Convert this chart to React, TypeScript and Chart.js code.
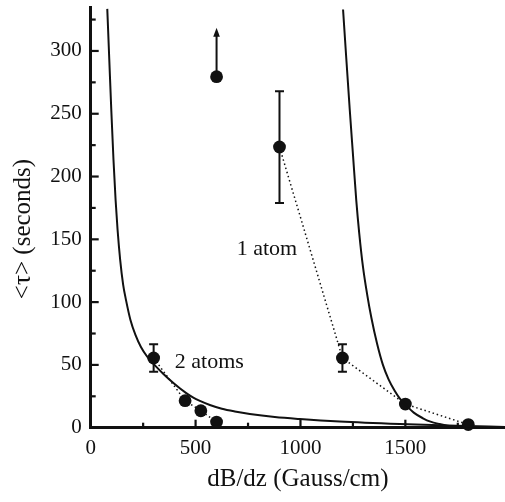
import { useEffect, useRef } from 'react';
import { Chart, registerables } from 'chart.js';

Chart.register(...registerables);

// ---- axis ticks ----
const X_TICKS = [0, 500, 1000, 1500];
const X_MINOR_TICKS = [250, 750, 1250, 1750];
const Y_TICKS = [0, 50, 100, 150, 200, 250, 300];
const Y_MINOR_TICKS = [25, 75, 125, 175, 225, 275, 325];
const X_MIN = 0;
const X_MAX = 1975;
const Y_MIN = 0;
const Y_MAX = 335;

// ---- measured points ----
const TWO_ATOM_X = [300, 450, 525, 600];
const TWO_ATOM_Y = [55.5, 21.5, 13.5, 4.5];
const TWO_ATOM_ERR_LOW = [44.5, null, null, null];
const TWO_ATOM_ERR_HIGH = [66.5, null, null, null];

const ONE_ATOM_X = [900, 1200, 1500, 1800];
const ONE_ATOM_Y = [223.5, 55.5, 18.8, 2.5];
const ONE_ATOM_ERR_LOW = [179, 44.5, null, null];
const ONE_ATOM_ERR_HIGH = [268, 66.5, null, null];

// lower-limit point (arrow up)
const LIMIT_X = [600];
const LIMIT_Y = [279.5];
const LIMIT_ARROW_TOP = [318.5];

// ---- theory curves ----
const FIT_TWO_X = [79, 88.6, 98.1, 108.6, 118.6, 128.1, 140.5, 154.8, 168.1, 189.5, 213.3, 239.5, 270.5, 306.2, 346.7, 394.3, 453.8, 487.1, 520.5, 568.1, 625.2, 687.1, 758.6, 877.6, 996.7, 1187, 1473, 1744, 1975];
const FIT_TWO_Y = [333.5, 293.1, 253.2, 213.4, 181.5, 157.6, 133.7, 113.8, 101.8, 85.8, 73.9, 64.3, 56.3, 49.6, 42.8, 35.6, 27.7, 24.1, 21.3, 18.1, 15.1, 12.9, 10.9, 8.5, 6.9, 4.9, 2.9, 1.5, 0.6];

const FIT_ONE_X = [1203, 1218, 1235, 1250, 1266, 1280, 1298, 1318, 1338, 1365, 1393, 1420, 1449, 1475, 1500, 1540, 1584, 1620, 1663, 1700, 1743, 1800, 1975];
const FIT_ONE_Y = [333, 295, 253, 218, 181, 155, 128, 106, 87.5, 67, 50, 38.5, 29.5, 23, 18.5, 12, 7.5, 4.8, 2.9, 1.6, 0.8, 0.3, 0];

// ---- annotations ----
const NOTE_TEXT = ['2 atoms', '1 atom'];
const NOTE_X = [401, 696];
const NOTE_Y = [47.6, 137.5];

const X_TITLE = 'dB/dz (Gauss/cm)';
const Y_TITLE = '<\u03C4> (seconds)';

const INK = '#111111';
const SERIF = '"Liberation Serif", "Times New Roman", serif';

const toXY = (xs: number[], ys: number[]) => xs.map((x, i) => ({ x, y: ys[i] }));

const overlayPlugin = {
  id: 'overlay',
  afterDatasetsDraw(chart: any) {
    const { ctx, chartArea } = chart;
    const xs = chart.scales.x;
    const ys = chart.scales.y;
    ctx.save();
    ctx.strokeStyle = INK;
    ctx.fillStyle = INK;
    ctx.lineCap = 'butt';

    // error bars
    const drawErr = (px: number[], lo: (number | null)[], hi: (number | null)[]) => {
      px.forEach((xv, i) => {
        const l = lo[i];
        const h = hi[i];
        if (l == null || h == null) return;
        const X = xs.getPixelForValue(xv);
        const Y1 = ys.getPixelForValue(l);
        const Y2 = ys.getPixelForValue(h);
        ctx.lineWidth = 2;
        ctx.beginPath();
        ctx.moveTo(X, Y1);
        ctx.lineTo(X, Y2);
        ctx.moveTo(X - 4.5, Y1);
        ctx.lineTo(X + 4.5, Y1);
        ctx.moveTo(X - 4.5, Y2);
        ctx.lineTo(X + 4.5, Y2);
        ctx.stroke();
      });
    };
    drawErr(TWO_ATOM_X, TWO_ATOM_ERR_LOW, TWO_ATOM_ERR_HIGH);
    drawErr(ONE_ATOM_X, ONE_ATOM_ERR_LOW, ONE_ATOM_ERR_HIGH);

    // lower-limit arrow
    LIMIT_X.forEach((xv, i) => {
      const X = xs.getPixelForValue(xv);
      const Y0 = ys.getPixelForValue(LIMIT_Y[i]);
      const Yt = ys.getPixelForValue(LIMIT_ARROW_TOP[i]);
      ctx.lineWidth = 2;
      ctx.beginPath();
      ctx.moveTo(X, Y0);
      ctx.lineTo(X, Yt + 6);
      ctx.stroke();
      ctx.beginPath();
      ctx.moveTo(X, Yt);
      ctx.lineTo(X - 3.3, Yt + 9);
      ctx.lineTo(X + 3.3, Yt + 9);
      ctx.closePath();
      ctx.fill();
    });

    // inward tick marks
    ctx.lineWidth = 2.2;
    const bottom = chartArea.bottom;
    const left = chartArea.left;
    const tick = (len: number, vals: number[], axis: 'x' | 'y') => {
      vals.forEach((v) => {
        ctx.beginPath();
        if (axis === 'x') {
          const X = xs.getPixelForValue(v);
          ctx.moveTo(X, bottom);
          ctx.lineTo(X, bottom - len);
        } else {
          const Y = ys.getPixelForValue(v);
          ctx.moveTo(left, Y);
          ctx.lineTo(left + len, Y);
        }
        ctx.stroke();
      });
    };
    tick(8, X_TICKS.filter((v) => v !== 0), 'x');
    tick(5, X_MINOR_TICKS, 'x');
    tick(8, Y_TICKS.filter((v) => v !== 0), 'y');
    tick(5, Y_MINOR_TICKS, 'y');

    // annotations
    ctx.font = `22px ${SERIF}`;
    ctx.textAlign = 'left';
    ctx.textBaseline = 'alphabetic';
    NOTE_TEXT.forEach((t, i) => {
      ctx.fillText(t, xs.getPixelForValue(NOTE_X[i]), ys.getPixelForValue(NOTE_Y[i]));
    });

    // y-axis title
    ctx.save();
    ctx.translate(23, 229);
    ctx.rotate(-Math.PI / 2);
    ctx.font = `25px ${SERIF}`;
    ctx.textAlign = 'center';
    ctx.textBaseline = 'middle';
    ctx.fillText(Y_TITLE, 0, 0);
    ctx.restore();

    ctx.restore();
  },
};

const zeroPadding = (s: any) => {
  s.paddingLeft = 0;
  s.paddingRight = 0;
  s.paddingTop = 0;
  s.paddingBottom = 0;
};

export default function App() {
  const canvasRef = useRef<HTMLCanvasElement | null>(null);

  useEffect(() => {
    const canvas = canvasRef.current;
    if (!canvas) return;

    const pointStyle = {
      pointRadius: 6.4,
      pointBorderWidth: 0,
      pointBackgroundColor: INK,
      clip: false,
    };

    const chart = new Chart(canvas, {
      type: 'line',
      data: {
        datasets: [
          {
            label: 'fit 2 atoms',
            data: toXY(FIT_TWO_X, FIT_TWO_Y),
            borderColor: INK,
            borderWidth: 2,
            pointRadius: 0,
            cubicInterpolationMode: 'monotone',
            fill: false,
          },
          {
            label: 'fit 1 atom',
            data: toXY(FIT_ONE_X, FIT_ONE_Y),
            borderColor: INK,
            borderWidth: 2,
            pointRadius: 0,
            cubicInterpolationMode: 'monotone',
            fill: false,
          },
          {
            label: '2 atoms',
            data: toXY(TWO_ATOM_X, TWO_ATOM_Y),
            borderColor: INK,
            borderWidth: 1.5,
            borderDash: [1.5, 2.8],
            tension: 0,
            ...pointStyle,
          },
          {
            label: '1 atom',
            data: toXY(ONE_ATOM_X, ONE_ATOM_Y),
            borderColor: INK,
            borderWidth: 1.5,
            borderDash: [1.5, 2.8],
            tension: 0,
            ...pointStyle,
          },
          {
            label: 'limit',
            data: toXY(LIMIT_X, LIMIT_Y),
            showLine: false,
            ...pointStyle,
          },
        ],
      } as any,
      plugins: [overlayPlugin],
      options: {
        animation: false,
        responsive: false,
        devicePixelRatio: 1,
        layout: { autoPadding: false, padding: { top: 7, right: 0, left: 0, bottom: 0 } },
        plugins: {
          legend: { display: false },
          tooltip: { enabled: false },
        },
        scales: {
          x: {
            type: 'linear',
            min: X_MIN,
            max: X_MAX,
            afterBuildTicks: (s: any) => {
              s.ticks = X_TICKS.map((v) => ({ value: v }));
            },
            afterFit: (s: any) => {
              s.height = 74.3;
              zeroPadding(s);
            },
            grid: { display: false, drawTicks: false },
            border: { display: true, color: INK, width: 3 },
            ticks: {
              color: INK,
              font: { family: SERIF, size: 21 },
              padding: 8,
              maxRotation: 0,
              autoSkip: false,
              callback: (v: any) => String(v),
            },
            title: {
              display: true,
              text: X_TITLE,
              color: INK,
              font: { family: SERIF, size: 25 },
              padding: { top: 0, bottom: 8 },
            },
          },
          y: {
            type: 'linear',
            min: Y_MIN,
            max: Y_MAX,
            afterBuildTicks: (s: any) => {
              s.ticks = Y_TICKS.map((v) => ({ value: v }));
            },
            afterFit: (s: any) => {
              s.width = 90.7;
              zeroPadding(s);
            },
            grid: { display: false, drawTicks: false },
            border: { display: true, color: INK, width: 3 },
            ticks: {
              color: INK,
              font: { family: SERIF, size: 21 },
              padding: 9,
              autoSkip: false,
              callback: (v: any) => String(v),
            },
          },
        },
      } as any,
    });

    return () => chart.destroy();
  }, []);

  return (
    <div style={{ position: 'fixed', left: 0, top: 0, width: 505, height: 502, background: '#fff' }}>
      <canvas ref={canvasRef} width={505} height={502} style={{ display: 'block' }} />
    </div>
  );
}
